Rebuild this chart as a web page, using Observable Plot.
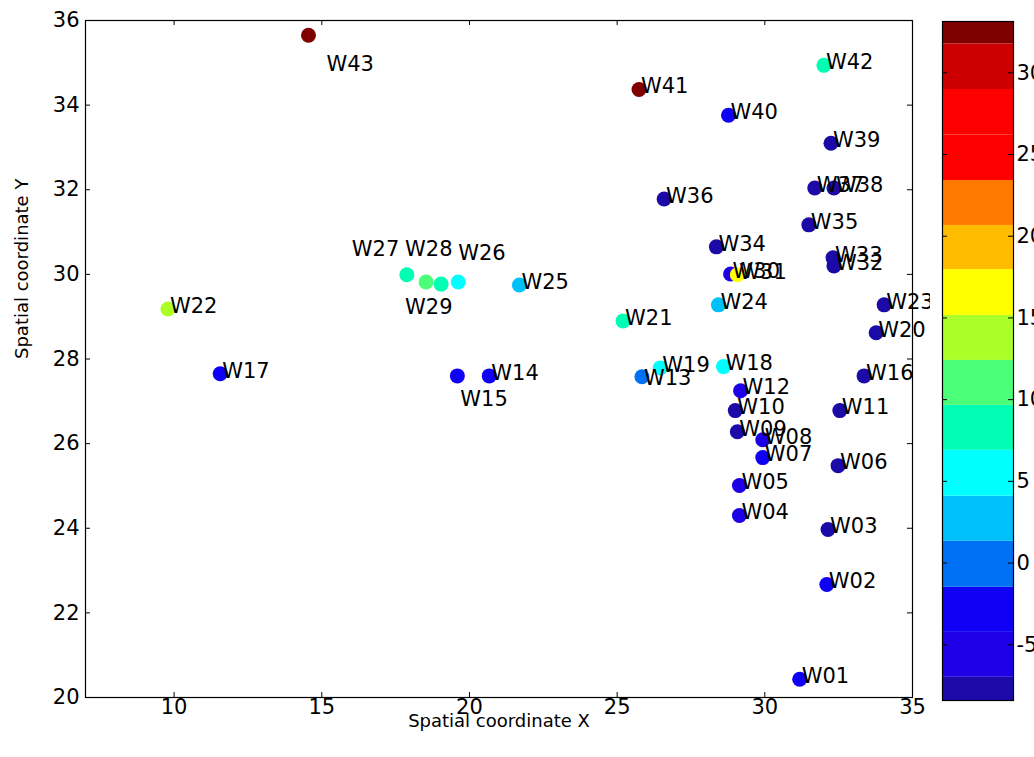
<!DOCTYPE html>
<html><head><meta charset="utf-8">
<script src="https://cdn.jsdelivr.net/npm/d3@7"></script>
<script src="https://cdn.jsdelivr.net/npm/@observablehq/plot@0.6"></script>
<style>
body{margin:0;background:#fff}
#wrap{position:relative;width:1034px;height:757px;overflow:hidden;background:#fff}
#main{position:absolute;left:0;top:0}
#cbar{position:absolute;left:930px;top:0}
</style>
</head><body><div id="wrap"><div id="main"></div><div id="cbar"></div></div>
<script>
// ---- data ----
const names = ["W01","W02","W03","W04","W05","W06","W07","W08","W09","W10",
  "W11","W12","W13","W14","W15","W16","W17","W18","W19","W20",
  "W21","W22","W23","W24","W25","W26","W27","W28","W29","W30",
  "W31","W32","W33","W34","W35","W36","W37","W38","W39","W40",
  "W41","W42","W43"];
const xs = [31.18,32.10,32.14,29.14,29.14,32.48,29.93,29.93,29.07,29.00,
  32.54,29.18,25.84,20.67,19.59,33.36,11.56,28.60,26.46,33.77,
  25.20,9.79,34.04,28.43,21.69,19.62,17.88,18.53,19.04,28.84,
  29.07,32.34,32.31,28.36,31.49,26.59,31.69,32.34,32.24,28.77,
  25.74,32.00,14.55];
const ys = [20.43,22.67,23.97,24.30,25.01,25.48,25.67,26.09,26.28,26.78,
  26.78,27.25,27.58,27.60,27.60,27.60,27.65,27.82,27.79,28.62,
  28.90,29.18,29.28,29.28,29.75,29.82,29.99,29.82,29.77,30.01,
  29.99,30.20,30.39,30.65,31.17,31.78,32.04,32.04,33.10,33.76,
  34.37,34.94,35.65];
const vals = [-3,-3,-7.5,-5.5,-5.5,-7.5,-3,-5.5,-7.5,-7.5,
  -7.5,-5.5,0,-3,-3,-7.5,-3,4.5,5.5,-7.5,
  8,13.8,-7.5,2.7,2.7,5.5,8,11,8,-5.5,
  16.5,-7.5,-7.5,-7.5,-7.5,-7.5,-7.5,-7.5,-7.5,-3,
  32.5,8,32.5];
const xTicks = [10,15,20,25,30,35];
const yTicks = [20,22,24,26,28,30,32,34,36];
const cbarTicks = [-5,0,5,10,15,20,25,30];
const levels = [-8.41,-6.99,-4.24,-1.48,1.33,4.09,6.9,9.65,12.4,15.15,17.96,20.66,23.41,26.2,28.98,31.77,33.14];
const levelColors = ["#1c0aa8","#1e00e6","#0f00f5","#0070f5","#00c0fa","#00ffff","#00ffb4","#4cff78",
  "#aaff28","#ffff00","#ffbb00","#ff7800","#ff0000","#ff0000","#cc0000","#800000"];
const xLabel = "Spatial coordinate X";
const yLabel = "Spatial coordinate Y";

// ---- build ----
const wells = names.map((n,i)=>({name:n, x:xs[i], y:ys[i], v:vals[i]}));
const bands = levelColors.map((c,i)=>({y1:levels[i], y2:levels[i+1], v:(levels[i]+levels[i+1])/2}));
const colorScale = {type:"threshold", domain:levels.slice(1,-1), range:levelColors};

const labelOffset = {W43:[18,29], W15:[3,23], W29:[-36,23], W27:[-55,-26], W28:[-21,-33], W26:[0,-29], W13:[2,1]};
const defaultOffset = [2,-3];
const groups = new Map();
for (const w of wells) {
  const off = labelOffset[w.name] || defaultOffset;
  const key = off.join(",");
  if (!groups.has(key)) groups.set(key, {off, data:[]});
  groups.get(key).data.push(w);
}
const textMarks = [...groups.values()].map(g => Plot.text(g.data, {
  x:"x", y:"y", text:"name", dx:g.off[0], dy:g.off[1], textAnchor:"start",
  fontSize:21, fill:"black"
}));

const W = 930, H = 757, mL = 85, mR = 18, mT = 20, mB = 60;
const innerW = W - mL - mR, innerH = H - mT - mB, tk = 5;

const main = Plot.plot({
  width: W, height: H, marginLeft: mL, marginRight: mR, marginTop: mT, marginBottom: mB,
  style: {fontFamily: "'DejaVu Sans', sans-serif", background: "white"},
  x: {domain: [7, 35]},
  y: {domain: [20, 36]},
  color: colorScale,
  marks: [
    Plot.axisX({ticks: xTicks, tickSize: 0, tickPadding: 2, fontSize: 21, tickFormat: d => String(d), label: null}),
    Plot.axisY({ticks: yTicks, tickSize: 0, tickPadding: 6, fontSize: 21, tickFormat: d => String(d), label: null}),
    Plot.tickX(xTicks, {x: d => d, insetTop: innerH - tk, stroke: "black"}),
    Plot.tickX(xTicks, {x: d => d, insetBottom: innerH - tk, stroke: "black"}),
    Plot.tickY(yTicks, {y: d => d, insetRight: innerW - tk, stroke: "black"}),
    Plot.tickY(yTicks, {y: d => d, insetLeft: innerW - tk, stroke: "black"}),
    Plot.dot(wells, {x: "x", y: "y", r: 7.5, fill: "v", stroke: null}),
    ...textMarks,
    Plot.frame({stroke: "black", strokeWidth: 1.2}),
    Plot.text([xLabel], {frameAnchor: "bottom", dy: 29, text: d => d, fontSize: 18, fill: "black"}),
    Plot.text([yLabel], {frameAnchor: "left", dx: -63, rotate: -90, text: d => d, fontSize: 18, fill: "black"})
  ]
});
document.getElementById("main").appendChild(main);

const cW = 104, cmL = 12, cmR = 21, cmT = 21, cmB = 57;
const cInnerW = cW - cmL - cmR;
const cbar = Plot.plot({
  width: cW, height: H, marginLeft: cmL, marginRight: cmR, marginTop: cmT, marginBottom: cmB,
  style: {fontFamily: "'DejaVu Sans', sans-serif", background: "white", overflow: "visible"},
  x: {domain: [0, 1], axis: null},
  y: {domain: [levels[0], levels[levels.length-1]]},
  color: colorScale,
  marks: [
    Plot.rect(bands, {x1: 0, x2: 1, y1: "y1", y2: "y2", fill: "v"}),
    Plot.axisY({anchor: "right", ticks: cbarTicks, tickSize: 0, tickPadding: 3, fontSize: 21, tickFormat: d => String(d), label: null}),
    Plot.tickY(cbarTicks, {y: d => d, insetRight: cInnerW - tk, stroke: "black"}),
    Plot.tickY(cbarTicks, {y: d => d, insetLeft: cInnerW - tk, stroke: "black"}),
    Plot.frame({stroke: "black", strokeWidth: 1.2})
  ]
});
document.getElementById("cbar").appendChild(cbar);
</script>
</body></html>
